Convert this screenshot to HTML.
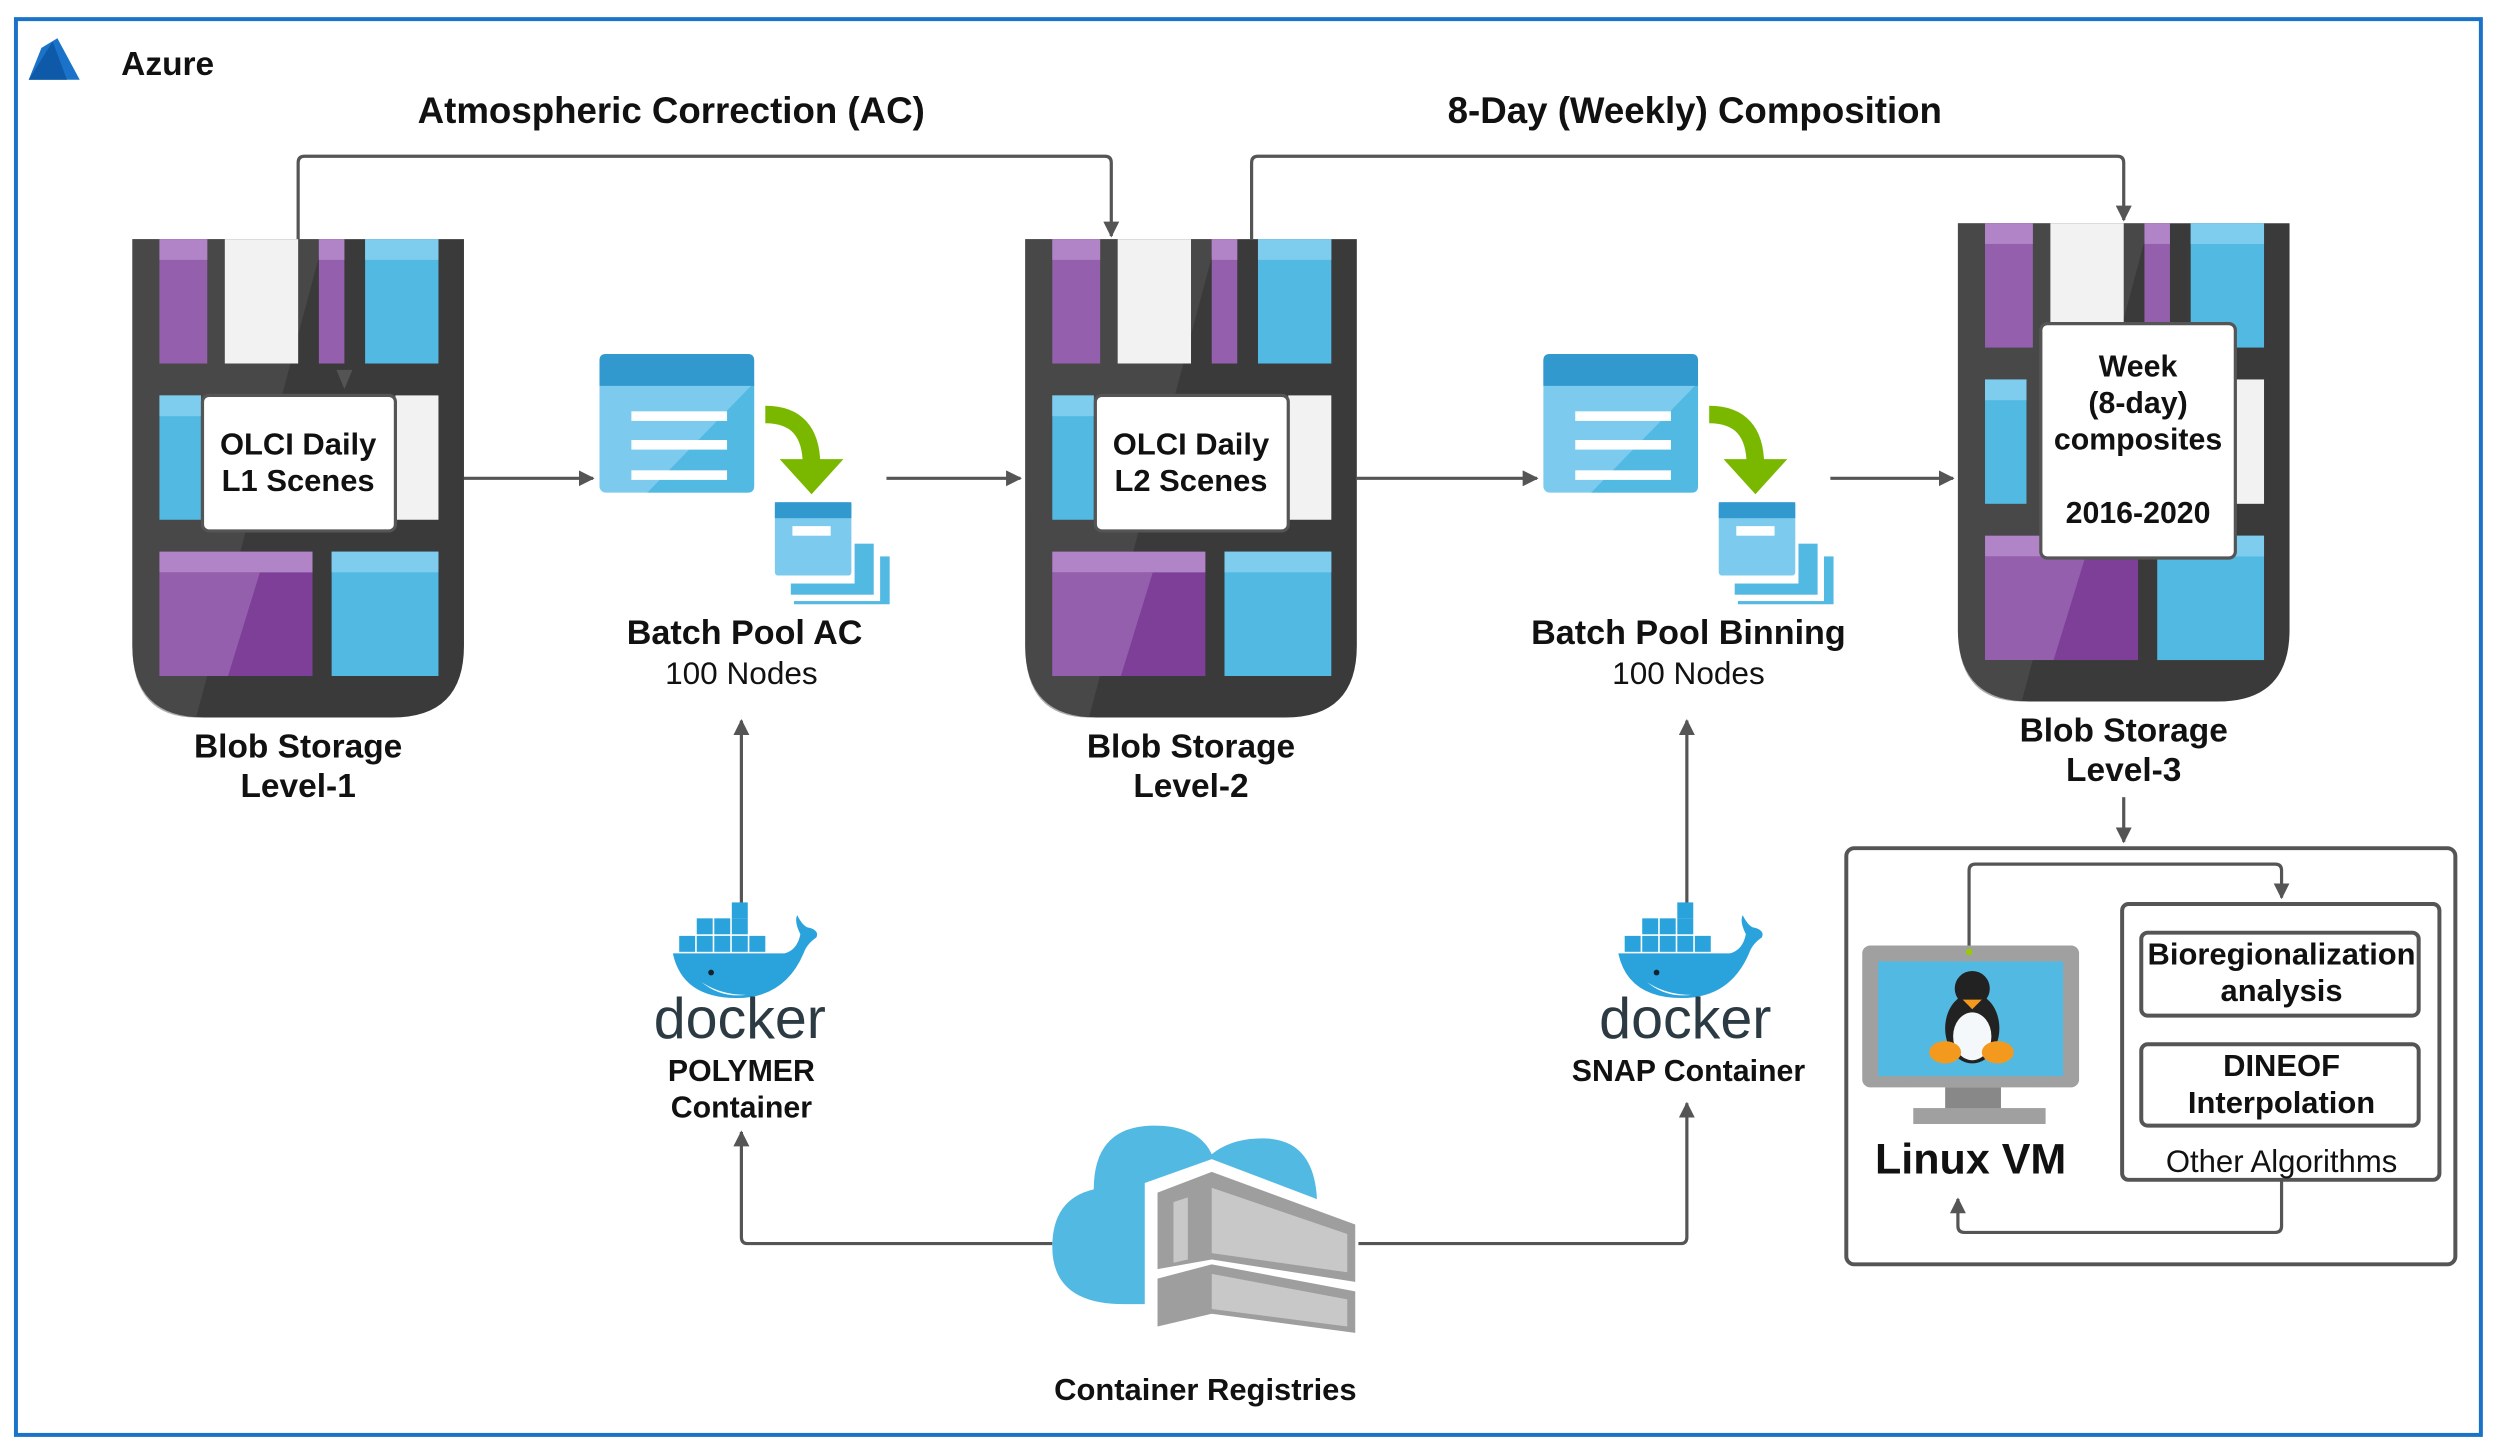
<!DOCTYPE html>
<html><head><meta charset="utf-8"><style>
html,body{margin:0;padding:0;background:#fff;}
svg{display:block;}
text{font-family:"Liberation Sans",sans-serif;fill:#111;}
.b{font-weight:bold;}
</style></head><body>
<svg width="2500" height="1455" viewBox="0 0 1568 912.6" preserveAspectRatio="none" xmlns="http://www.w3.org/2000/svg">
<defs>
<marker id="ar" viewBox="0 0 10 10" refX="9" refY="5" markerWidth="5" markerHeight="5" orient="auto-start-reverse"><path d="M0,0L10,5L0,10z" fill="#555"/></marker>
<g id="blob">
<path d="M0,0H208V255Q208,300 163,300H45Q0,300 0,255Z" fill="#3a3a3a"/>
<path d="M0,0H120L40,300Q0,300 0,255Z" fill="#555" opacity="0.5"/>
<rect x="17" y="0" width="30" height="78" fill="#9460ad"/><rect x="17" y="0" width="30" height="13" fill="#b084c6"/>
<rect x="58" y="0" width="46" height="78" fill="#f2f2f2"/>
<rect x="117" y="0" width="16" height="78" fill="#9460ad"/><rect x="117" y="0" width="16" height="13" fill="#b084c6"/>
<rect x="146" y="0" width="46" height="78" fill="#52b9e3"/><rect x="146" y="0" width="46" height="13" fill="#7fcdee"/>
<rect x="17" y="98" width="26" height="78" fill="#52b9e3"/><rect x="17" y="98" width="26" height="13" fill="#7fcdee"/>
<rect x="165" y="98" width="27" height="78" fill="#f2f2f2"/>
<rect x="17" y="196" width="96" height="78" fill="#7e3f98"/><rect x="17" y="196" width="96" height="13" fill="#b084c6"/>
<path d="M17,209H80L60,274H17Z" fill="#9460ad"/>
<rect x="125" y="196" width="67" height="78" fill="#52b9e3"/><rect x="125" y="196" width="67" height="13" fill="#7fcdee"/>
</g>
<g id="batch">
<rect x="0" y="0" width="97" height="87" rx="4" fill="#7ccbee"/>
<path d="M97,18V83Q97,87 93,87H30Z" fill="#52b9e3"/>
<path d="M4,0H93Q97,0 97,4V20H0V4Q0,0 4,0Z" fill="#3299cf"/>
<rect x="20" y="36" width="60" height="6" fill="#fff"/><rect x="20" y="54" width="60" height="6" fill="#fff"/><rect x="20" y="73" width="60" height="6" fill="#fff"/>
<path d="M104,38Q133,38 133,70" stroke="#7ab800" stroke-width="11" fill="none"/>
<path d="M113,66H153L133,88Z" fill="#7ab800"/>
<rect x="122" y="127" width="60" height="30" fill="#52b9e3"/>
<rect x="116" y="115" width="60" height="40" fill="#fff"/>
<rect x="120" y="119" width="52" height="32" fill="#52b9e3"/>
<rect x="110" y="104" width="50" height="40" fill="#fff"/>
<rect x="110" y="93" width="48" height="46" rx="2" fill="#7ccbee"/>
<rect x="110" y="93" width="48" height="10" fill="#3299cf"/>
<rect x="121" y="108" width="24" height="6" fill="#fff"/>
</g>
<g id="docker">
<rect x="-3" y="-32" width="10" height="10" fill="#2aa3dc"/>
<rect x="-25" y="-22" width="10" height="10" fill="#2aa3dc"/><rect x="-14" y="-22" width="10" height="10" fill="#2aa3dc"/><rect x="-3" y="-22" width="10" height="10" fill="#2aa3dc"/>
<rect x="-36" y="-11" width="10" height="10" fill="#2aa3dc"/><rect x="-25" y="-11" width="10" height="10" fill="#2aa3dc"/><rect x="-14" y="-11" width="10" height="10" fill="#2aa3dc"/><rect x="-3" y="-11" width="10" height="10" fill="#2aa3dc"/><rect x="8" y="-11" width="10" height="10" fill="#2aa3dc"/>
<path d="M-40,0H30Q38,-2 40,-12Q36,-20 38,-24Q42,-16 46,-16Q52,-14 50,-10Q44,-6 42,0Q30,28 0,28Q-34,28 -40,0Z" fill="#2aa3dc"/>
<path d="M-22,18Q-10,26 6,26Q-10,28 -22,18Z" fill="#fff"/>
<circle cx="-16" cy="12" r="1.8" fill="#123"/>
<text x="2" y="53" text-anchor="middle" font-size="36" style="fill:#2c3b43">docker</text>
</g>
</defs>

<rect x="10" y="12" width="1546" height="888" fill="none" stroke="#1a73c8" stroke-width="2.5"/>
<path d="M26,30L36,24L50,50H18Z" fill="#1a73c8"/><path d="M33,26L42,50H18Z" fill="#0f5aa8"/>
<text x="76" y="47" class="b" font-size="21">Azure</text>
<text x="421" y="77" class="b" font-size="23" text-anchor="middle">Atmospheric Correction (AC)</text>
<text x="1063" y="77" class="b" font-size="23" text-anchor="middle">8-Day (Weekly) Composition</text>

<use href="#blob" x="83" y="150"/>
<use href="#blob" x="643" y="150"/>
<use href="#blob" x="1228" y="140"/>

<g fill="none" stroke="#555" stroke-width="2">
<path d="M187,150V102Q187,98 191,98H693Q697,98 697,102V148" marker-end="url(#ar)"/>
<path d="M785,150V102Q785,98 789,98H1328Q1332,98 1332,102V138" marker-end="url(#ar)"/>
<path d="M291,300H372" marker-end="url(#ar)"/>
<path d="M556,300H640" marker-end="url(#ar)"/>
<path d="M851,300H964" marker-end="url(#ar)"/>
<path d="M1148,300H1225" marker-end="url(#ar)"/>
<path d="M465,570V452" marker-end="url(#ar)"/>
<path d="M1058,570V452" marker-end="url(#ar)"/>
<path d="M660,780H469Q465,780 465,776V710" marker-end="url(#ar)"/>
<path d="M850,780H1054Q1058,780 1058,776V692" marker-end="url(#ar)"/>
<path d="M1332,500V528" marker-end="url(#ar)"/>
<path d="M1235,595V546Q1235,542 1239,542H1427Q1431,542 1431,546V563" marker-end="url(#ar)"/>
<path d="M1431,740V769Q1431,773 1427,773H1232Q1228,773 1228,769V752" marker-end="url(#ar)"/>
</g>
<path d="M211,232H221L216,244Z" fill="#666" opacity="0.6"/>

<rect x="127" y="248" width="121" height="85" rx="4" fill="#fff" stroke="#555" stroke-width="2"/>
<text x="187" y="285" class="b" font-size="19.4" text-anchor="middle">OLCI Daily</text>
<text x="187" y="308" class="b" font-size="19.4" text-anchor="middle">L1 Scenes</text>
<rect x="687" y="248" width="121" height="85" rx="4" fill="#fff" stroke="#555" stroke-width="2"/>
<text x="747" y="285" class="b" font-size="19.4" text-anchor="middle">OLCI Daily</text>
<text x="747" y="308" class="b" font-size="19.4" text-anchor="middle">L2 Scenes</text>
<rect x="1280" y="203" width="122" height="147" rx="4" fill="#fff" stroke="#555" stroke-width="2"/>
<g class="b" font-size="19" text-anchor="middle">
<text x="1341" y="236">Week</text><text x="1341" y="259">(8-day)</text><text x="1341" y="282">composites</text><text x="1341" y="328">2016-2020</text>
</g>

<g class="b" font-size="21" text-anchor="middle">
<text x="187" y="475">Blob Storage</text><text x="187" y="500">Level-1</text>
<text x="747" y="475">Blob Storage</text><text x="747" y="500">Level-2</text>
<text x="1332" y="465">Blob Storage</text><text x="1332" y="490">Level-3</text>
<text x="467" y="404" font-size="21.4">Batch Pool AC</text>
<text x="1059" y="404" font-size="21.4">Batch Pool Binning</text>
</g>
<text x="465" y="429" font-size="19.8" text-anchor="middle">100 Nodes</text>
<text x="1059" y="429" font-size="19.8" text-anchor="middle">100 Nodes</text>

<use href="#batch" x="376" y="222"/>
<use href="#batch" x="968" y="222"/>

<use href="#docker" x="462" y="598"/>
<use href="#docker" x="1055" y="598"/>
<g class="b" font-size="19" text-anchor="middle">
<text x="465" y="678">POLYMER</text><text x="465" y="701">Container</text>
<text x="1059" y="678">SNAP Container</text>
<text x="756" y="878" font-size="19.4">Container Registries</text>
</g>

<!-- container registry -->
<path d="M705,818Q660,818 660,782Q660,752 686,746Q686,706 724,706Q752,706 760,724Q772,714 792,714Q824,714 826,752V818Z" fill="#52b9e3"/>
<path d="M718,742L760,727L852,762V832H718Z" fill="#fff"/>
<path d="M726,748L760,735L850,768V804L760,790L726,796Z" fill="#9e9e9e"/>
<path d="M736,754L745,751V790L736,792ZM760,745L845,774V798L760,786Z" fill="#c8c8c8"/>
<path d="M726,802L760,793L850,810V836L760,824L726,832Z" fill="#9e9e9e"/>
<path d="M760,799L845,815V832L760,821Z" fill="#c8c8c8"/>

<!-- VM box -->
<rect x="1158" y="532" width="382" height="261" rx="5" fill="none" stroke="#555" stroke-width="2.5"/>
<rect x="1168" y="593" width="136" height="89" rx="5" fill="#a0a0a0"/>
<rect x="1178" y="603" width="116" height="72" fill="#52b9e3"/>
<rect x="1220" y="682" width="35" height="14" fill="#888"/>
<rect x="1200" y="695" width="83" height="10" fill="#a0a0a0"/>
<circle cx="1235" cy="597" r="2" fill="#9c0"/>
<ellipse cx="1237" cy="645" rx="17" ry="22" fill="#222"/>
<circle cx="1237" cy="620" r="11" fill="#222"/>
<ellipse cx="1237" cy="650" rx="12" ry="15" fill="#f4f8fa"/>
<path d="M1231,627L1243,627L1237,633Z" fill="#f39a1e"/>
<ellipse cx="1220" cy="660" rx="10" ry="7" fill="#f39a1e"/><ellipse cx="1253" cy="660" rx="10" ry="7" fill="#f39a1e"/>
<text x="1236" y="736" class="b" font-size="27" text-anchor="middle">Linux VM</text>

<rect x="1331" y="567" width="199" height="173" rx="4" fill="none" stroke="#555" stroke-width="2.5"/>
<rect x="1343" y="585" width="174" height="52" rx="4" fill="none" stroke="#555" stroke-width="2.5"/>
<rect x="1343" y="655" width="174" height="51" rx="4" fill="none" stroke="#555" stroke-width="2.5"/>
<g class="b" font-size="19.4" text-anchor="middle">
<text x="1431" y="605">Bioregionalization</text><text x="1431" y="628">analysis</text>
<text x="1431" y="675">DINEOF</text><text x="1431" y="698">Interpolation</text>
</g>
<text x="1431" y="735" font-size="19.5" text-anchor="middle">Other Algorithms</text>
</svg>
</body></html>
